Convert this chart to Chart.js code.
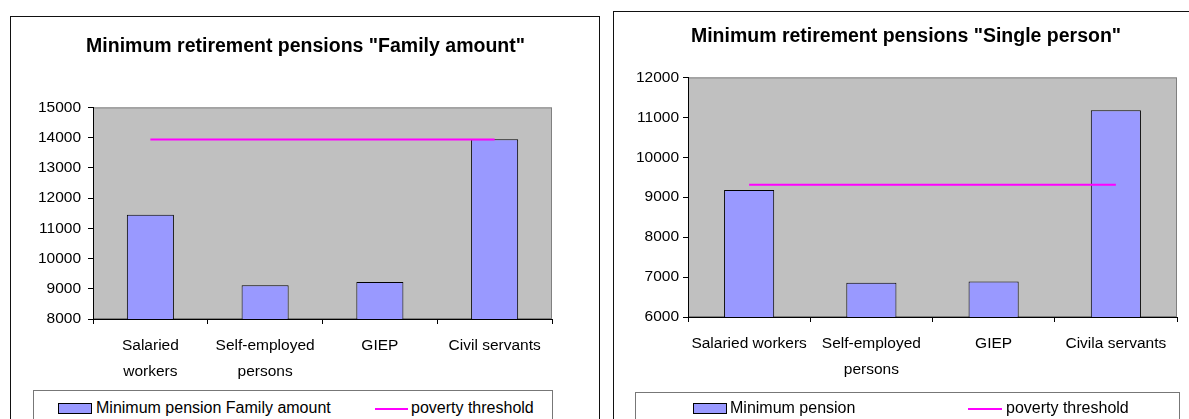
<!DOCTYPE html>
<html>
<head>
<meta charset="utf-8">
<script src="https://cdn.jsdelivr.net/npm/chart.js@4"></script>
<style>
  body { margin: 0; background: #fff; width: 1189px; height: 419px; overflow: hidden; position: relative; font-family: "Liberation Sans", Arial, sans-serif; }
  .frame { position: absolute; border: 1px solid #111; box-sizing: border-box; }
  canvas { position: absolute; }
  .legend { position: absolute; border: 1px solid #777; box-sizing: border-box; background: #fff; }
  .legend span { position: absolute; font-size: 16px; line-height: 16px; color: #000; white-space: nowrap; }
  .legend .patch { position: absolute; width: 32px; height: 9px; background: #9999FF; border: 1px solid #000; }
  .legend .stroke { position: absolute; height: 2px; background: #FF00FF; }
</style>
</head>
<body>
<div class="frame" style="left:10px; top:16px; width:590px; height:440px;"></div>
<div class="frame" style="left:613px; top:11px; width:600px; height:440px;"></div>

<canvas id="familyChart" width="589" height="402" style="left:11px; top:17px;"></canvas>
<canvas id="singleChart" width="575" height="407" style="left:614px; top:12px;"></canvas>

<div class="legend" style="left:33px; top:390px; width:520px; height:40px;">
  <div class="patch" style="left:24px; top:12px;"></div>
  <span style="left:62px; top:9px;">Minimum pension Family amount</span>
  <div class="stroke" style="left:341px; top:17px; width:33px;"></div>
  <span style="left:377px; top:9px;">poverty threshold</span>
</div>
<div class="legend" style="left:635px; top:392px; width:545px; height:40px;">
  <div class="patch" style="left:57px; top:10px;"></div>
  <span style="left:94px; top:7px;">Minimum pension</span>
  <div class="stroke" style="left:332px; top:15px; width:34px;"></div>
  <span style="left:370px; top:7px;">poverty threshold</span>
</div>

<script>
"use strict";

// family amount chart
const familyCategories = [["Salaried", "workers"], ["Self-employed", "persons"], "GIEP", "Civil servants"];
const familyPension = [11450, 9120, 9220, 13950];
const familyThreshold = [13940, 13940, 13940, 13940];
const familyTicks = [8000, 15000, 1000];

// single person chart
const singleCategories = ["Salaried workers", ["Self-employed", "persons"], "GIEP", "Civila servants"];
const singlePension = [9180, 6860, 6890, 11180];
const singleThreshold = [9310, 9310, 9310, 9310];
const singleTicks = [6000, 12000, 1000];

const fontFamily = "'Liberation Sans', Arial, sans-serif";

// grey plot area with a thin outline
const plotBackground = {
  id: "plotBackground",
  beforeDraw(chart) {
    const { ctx, chartArea: a } = chart;
    ctx.save();
    ctx.fillStyle = "#C0C0C0";
    ctx.fillRect(a.left, a.top, a.width, a.height);
    ctx.strokeStyle = "#808080";
    ctx.lineWidth = 1;
    ctx.strokeRect(a.left + 0.5, a.top + 0.5, a.width - 1, a.height - 1);
    ctx.restore();
  },
};

// center the title over the whole frame, not just the padded box
const titleSpan = {
  id: "titleSpan",
  afterLayout(chart, args, opts) {
    chart.titleBlock.left = opts.left;
    chart.titleBlock.right = opts.right;
  },
};

function buildChart(canvasId, opts) {
  const ctx = document.getElementById(canvasId).getContext("2d");
  return new Chart(ctx, {
    type: "bar",
    data: {
      labels: opts.labels,
      datasets: [
        {
          type: "line",
          label: "poverty threshold",
          data: opts.threshold,
          borderColor: "#FF00FF",
          borderWidth: 2,
          pointRadius: 0,
          fill: false,
          order: 1,
        },
        {
          label: opts.barLabel,
          data: opts.pension,
          backgroundColor: "#9999FF",
          borderColor: "#000000",
          borderWidth: 1,
          categoryPercentage: 1,
          barPercentage: 0.41,
          order: 2,
        },
      ],
    },
    options: {
      responsive: false,
      animation: false,
      devicePixelRatio: 1,
      layout: { padding: opts.padding },
      plugins: {
        legend: { display: false },
        tooltip: { enabled: false },
        title: {
          display: true,
          text: opts.title,
          color: "#000",
          font: { family: fontFamily, size: 19.5, weight: "bold", lineHeight: 1.2 },
          padding: opts.titlePadding,
        },
        titleSpan: opts.titleSpan,
      },
      scales: {
        x: {
          grid: { drawOnChartArea: false, tickLength: 5, color: "#000", offset: true },
          border: { display: true, color: "#000", width: 1 },
          ticks: {
            color: "#000",
            maxRotation: 0,
            autoSkip: false,
            padding: 9,
            font: { family: fontFamily, size: 15.5, lineHeight: 1.65 },
          },
          afterFit(scale) { scale.height = 60; },
        },
        y: {
          min: opts.ticks[0],
          max: opts.ticks[1],
          grid: { drawOnChartArea: false, tickLength: 5, color: "#000" },
          border: { display: true, color: "#000", width: 1 },
          ticks: {
            stepSize: opts.ticks[2],
            color: "#000",
            padding: opts.tickPadding,
            font: { family: fontFamily, size: 15.5 },
            callback: (value) => String(value),
          },
          afterFit(scale) { scale.width = opts.yWidth; },
        },
      },
    },
    plugins: [plotBackground, titleSpan],
  });
}

buildChart("familyChart", {
  labels: familyCategories,
  pension: familyPension,
  threshold: familyThreshold,
  ticks: familyTicks,
  barLabel: "Minimum pension Family amount",
  title: 'Minimum retirement pensions "Family amount"',
  padding: { left: 10, right: 48, top: 0, bottom: 40 },
  titlePadding: { top: 18, bottom: 49 },
  titleSpan: { left: 0, right: 589 },
  tickPadding: 7,
  yWidth: 72,
});

buildChart("singleChart", {
  labels: singleCategories,
  pension: singlePension,
  threshold: singleThreshold,
  ticks: singleTicks,
  barLabel: "Minimum pension",
  title: 'Minimum retirement pensions "Single person"',
  padding: { left: 10, right: 12, top: 0, bottom: 42 },
  titlePadding: { top: 13, bottom: 29 },
  titleSpan: { left: 0, right: 584 },
  tickPadding: 4,
  yWidth: 64,
});
</script>
</body>
</html>
